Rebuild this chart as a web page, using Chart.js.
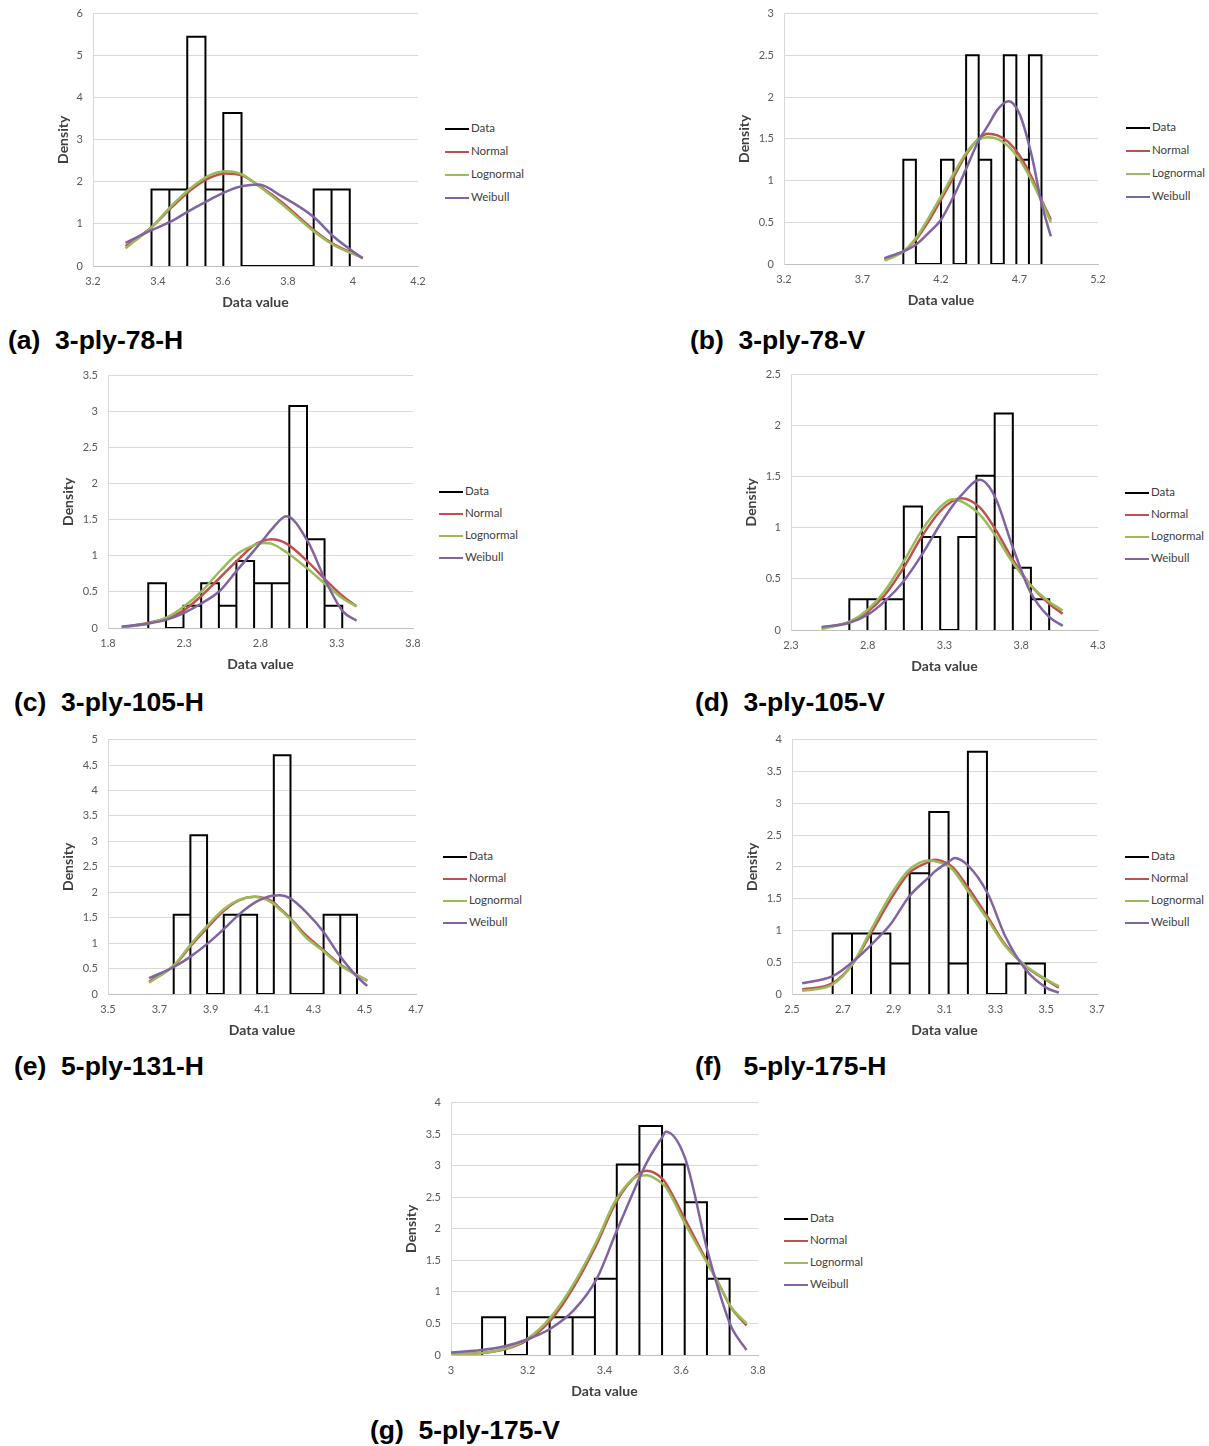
<!DOCTYPE html>
<html>
<head>
<meta charset="utf-8">
<script src="https://cdn.jsdelivr.net/npm/chart.js@4.4.1/dist/chart.umd.min.js"></script>
<style>
  body { margin: 0; background: #fff; }
  #page { position: relative; width: 1209px; height: 1446px; overflow: hidden; }
  canvas { position: absolute; }
  .caption { position: absolute; font: bold 26.5px "Liberation Sans", Arial, sans-serif; color: #000; white-space: pre; line-height: 30px; }
  .legend { position: absolute; font: 11.5px Lato, sans-serif; color: #404040; }
  .legend div { position: relative; height: 23px; line-height: 14px; white-space: nowrap; }
  .legend span { display: inline-block; width: 24px; height: 2.5px; vertical-align: middle; margin-right: 2px; }
</style>
</head>
<body>
<div id="page"></div>
<script>
// (a) 3-ply-78-H
const edgesA = [3.38, 3.435, 3.49, 3.546, 3.601, 3.657, 3.712, 3.768, 3.823, 3.879, 3.934, 3.99];
const densA = [1.82, 1.82, 5.45, 1.82, 3.64, 0, 0, 0, 0, 1.82, 1.82];
const xA = [3.30, 3.38, 3.44, 3.50, 3.56, 3.61, 3.66, 3.71, 3.78, 3.88, 3.94, 4.03];
const normA = [0.47, 0.92, 1.38, 1.80, 2.10, 2.20, 2.15, 1.91, 1.52, 0.85, 0.52, 0.20];
const logA = [0.42, 0.92, 1.42, 1.85, 2.16, 2.25, 2.17, 1.90, 1.48, 0.82, 0.50, 0.19];
const weibA = [0.55, 0.85, 1.06, 1.33, 1.58, 1.77, 1.90, 1.94, 1.66, 1.16, 0.70, 0.18];
const xTicksA = [3.2, 3.4, 3.6, 3.8, 4, 4.2];
const yTicksA = [0, 1, 2, 3, 4, 5, 6];

// (b) 3-ply-78-V
const edgesB = [3.96, 4.04, 4.12, 4.2, 4.28, 4.36, 4.44, 4.52, 4.6, 4.68, 4.76, 4.84];
const densB = [1.25, 0, 0, 1.25, 0, 2.5, 1.25, 0, 2.5, 1.25, 2.5];
const xB = [3.84, 3.96, 4.04, 4.12, 4.20, 4.28, 4.36, 4.44, 4.50, 4.56, 4.63, 4.70, 4.78, 4.84, 4.90];
const normB = [0.06, 0.15, 0.29, 0.51, 0.77, 1.04, 1.31, 1.50, 1.56, 1.54, 1.46, 1.30, 1.03, 0.77, 0.53];
const logB = [0.04, 0.15, 0.31, 0.55, 0.81, 1.08, 1.33, 1.49, 1.52, 1.50, 1.41, 1.25, 0.99, 0.75, 0.50];
const weibB = [0.07, 0.15, 0.23, 0.37, 0.53, 0.81, 1.14, 1.48, 1.66, 1.85, 1.95, 1.80, 1.28, 0.73, 0.33];
const xTicksB = [3.2, 3.7, 4.2, 4.7, 5.2];
const yTicksB = [0, 0.5, 1, 1.5, 2, 2.5, 3];

// (c) 3-ply-105-H
const edgesC = [2.064, 2.18, 2.295, 2.411, 2.527, 2.642, 2.758, 2.874, 2.989, 3.105, 3.22, 3.336];
const densC = [0.62, 0, 0.31, 0.62, 0.31, 0.93, 0.62, 0.62, 3.08, 1.23, 0.31];
const xC = [1.89, 2.06, 2.19, 2.30, 2.42, 2.53, 2.65, 2.76, 2.82, 2.87, 2.97, 3.11, 3.23, 3.34, 3.43];
const normC = [0.01, 0.07, 0.14, 0.25, 0.46, 0.69, 0.94, 1.15, 1.21, 1.23, 1.17, 0.92, 0.66, 0.44, 0.30];
const logC = [0.01, 0.06, 0.15, 0.30, 0.52, 0.78, 1.03, 1.15, 1.18, 1.17, 1.05, 0.82, 0.60, 0.41, 0.30];
const weibC = [0.02, 0.06, 0.12, 0.21, 0.35, 0.51, 0.81, 1.08, 1.23, 1.36, 1.55, 1.20, 0.64, 0.23, 0.10];
const xTicksC = [1.8, 2.3, 2.8, 3.3, 3.8];
const yTicksC = [0, 0.5, 1, 1.5, 2, 2.5, 3, 3.5];

// (d) 3-ply-105-V
const edgesD = [2.68, 2.798, 2.917, 3.035, 3.153, 3.272, 3.39, 3.508, 3.627, 3.745, 3.863, 3.982];
const densD = [0.30, 0.30, 0.30, 1.21, 0.91, 0, 0.91, 1.51, 2.12, 0.61, 0.30];
const xD = [2.50, 2.68, 2.80, 2.91, 3.03, 3.15, 3.27, 3.35, 3.41, 3.53, 3.63, 3.74, 3.86, 3.98, 4.07];
const normD = [0.02, 0.08, 0.18, 0.34, 0.60, 0.91, 1.16, 1.26, 1.29, 1.20, 0.99, 0.70, 0.44, 0.26, 0.16];
const logD = [0.01, 0.08, 0.20, 0.38, 0.66, 0.97, 1.20, 1.28, 1.26, 1.13, 0.93, 0.67, 0.44, 0.28, 0.19];
const weibD = [0.03, 0.07, 0.15, 0.28, 0.47, 0.73, 1.03, 1.21, 1.32, 1.47, 1.30, 0.83, 0.37, 0.13, 0.04];
const xTicksD = [2.3, 2.8, 3.3, 3.8, 4.3];
const yTicksD = [0, 0.5, 1, 1.5, 2, 2.5];

// (e) 5-ply-131-H
const edgesE = [3.756, 3.821, 3.886, 3.951, 4.016, 4.081, 4.146, 4.211, 4.275, 4.34, 4.405, 4.47];
const densE = [1.56, 3.12, 0, 1.56, 1.56, 0, 4.69, 0, 0, 1.56, 1.56];
const xE = [3.66, 3.76, 3.82, 3.89, 3.95, 4.01, 4.07, 4.14, 4.17, 4.21, 4.27, 4.34, 4.40, 4.47, 4.51];
const normE = [0.24, 0.57, 0.93, 1.32, 1.63, 1.84, 1.91, 1.82, 1.68, 1.49, 1.16, 0.86, 0.60, 0.37, 0.26];
const logE = [0.22, 0.58, 0.96, 1.36, 1.66, 1.85, 1.91, 1.79, 1.66, 1.47, 1.12, 0.84, 0.58, 0.37, 0.26];
const weibE = [0.31, 0.54, 0.73, 1.00, 1.27, 1.56, 1.79, 1.93, 1.94, 1.88, 1.62, 1.22, 0.77, 0.34, 0.16];
const xTicksE = [3.5, 3.7, 3.9, 4.1, 4.3, 4.5, 4.7];
const yTicksE = [0, 0.5, 1, 1.5, 2, 2.5, 3, 3.5, 4, 4.5, 5];

// (f) 5-ply-175-H
const edgesF = [2.66, 2.736, 2.811, 2.887, 2.963, 3.04, 3.116, 3.192, 3.267, 3.343, 3.419, 3.495];
const densF = [0.95, 0.95, 0.95, 0.48, 1.90, 2.86, 0.48, 3.81, 0, 0.48, 0.48];
const xF = [2.54, 2.66, 2.74, 2.81, 2.89, 2.96, 3.04, 3.06, 3.12, 3.14, 3.19, 3.27, 3.34, 3.42, 3.50, 3.55];
const normF = [0.07, 0.17, 0.48, 0.95, 1.50, 1.90, 2.08, 2.11, 2.03, 1.96, 1.69, 1.21, 0.77, 0.43, 0.22, 0.10];
const logF = [0.05, 0.15, 0.48, 1.00, 1.57, 1.95, 2.10, 2.09, 2.00, 1.92, 1.63, 1.17, 0.75, 0.44, 0.23, 0.12];
const weibF = [0.17, 0.28, 0.51, 0.77, 1.11, 1.53, 1.84, 1.92, 2.09, 2.14, 2.03, 1.58, 0.90, 0.38, 0.10, 0.02];
const xTicksF = [2.5, 2.7, 2.9, 3.1, 3.3, 3.5, 3.7];
const yTicksF = [0, 0.5, 1, 1.5, 2, 2.5, 3, 3.5, 4];

// (g) 5-ply-175-V
const edgesG = [3.081, 3.141, 3.198, 3.257, 3.317, 3.375, 3.432, 3.491, 3.55, 3.609, 3.667, 3.726];
const densG = [0.60, 0, 0.60, 0.60, 0.60, 1.21, 3.02, 3.63, 3.02, 2.42, 1.21];
const xG = [3.00, 3.08, 3.14, 3.20, 3.26, 3.32, 3.38, 3.43, 3.49, 3.51, 3.55, 3.56, 3.61, 3.67, 3.70, 3.73, 3.77];
const normG = [0.01, 0.03, 0.09, 0.24, 0.55, 1.08, 1.76, 2.42, 2.88, 2.92, 2.80, 2.72, 2.15, 1.45, 1.10, 0.75, 0.47];
const logG = [0.01, 0.03, 0.10, 0.26, 0.60, 1.13, 1.81, 2.46, 2.84, 2.85, 2.72, 2.66, 2.08, 1.43, 1.10, 0.76, 0.50];
const weibG = [0.04, 0.08, 0.14, 0.25, 0.42, 0.71, 1.21, 1.94, 2.79, 3.05, 3.45, 3.54, 3.12, 1.61, 0.98, 0.45, 0.08];
const xTicksG = [3, 3.2, 3.4, 3.6, 3.8];
const yTicksG = [0, 0.5, 1, 1.5, 2, 2.5, 3, 3.5, 4];

const seriesNames = ['Data', 'Normal', 'Lognormal', 'Weibull'];
const seriesColors = ['#000000', '#c0504d', '#9bbb59', '#8064a2'];

// panel placement: plot area box (left, top, right, bottom), y-axis width, legend spot, caption
const panels = [
  { caption: '(a)  3-ply-78-H', edges: edgesA, dens: densA, xs: xA, norm: normA, logn: logA, weib: weibA, xTicks: xTicksA, yTicks: yTicksA,
    plot: [93, 13, 418, 266], axisW: 40, legend: [445, 128, 23], cap: [8, 340] },
  { caption: '(b)  3-ply-78-V', edges: edgesB, dens: densB, xs: xB, norm: normB, logn: logB, weib: weibB, xTicks: xTicksB, yTicks: yTicksB,
    plot: [784, 13, 1098, 264], axisW: 50, legend: [1126, 127, 23], cap: [690, 340] },
  { caption: '(c)  3-ply-105-H', edges: edgesC, dens: densC, xs: xC, norm: normC, logn: logC, weib: weibC, xTicks: xTicksC, yTicks: yTicksC,
    plot: [108, 375, 413, 628], axisW: 50, legend: [439, 491, 22], cap: [14, 702] },
  { caption: '(d)  3-ply-105-V', edges: edgesD, dens: densD, xs: xD, norm: normD, logn: logD, weib: weibD, xTicks: xTicksD, yTicks: yTicksD,
    plot: [791, 374, 1098, 630], axisW: 50, legend: [1125, 492, 22], cap: [695, 702] },
  { caption: '(e)  5-ply-131-H', edges: edgesE, dens: densE, xs: xE, norm: normE, logn: logE, weib: weibE, xTicks: xTicksE, yTicks: yTicksE,
    plot: [108, 739, 416, 994], axisW: 50, legend: [443, 856, 22], cap: [14, 1066] },
  { caption: '(f)   5-ply-175-H', edges: edgesF, dens: densF, xs: xF, norm: normF, logn: logF, weib: weibF, xTicks: xTicksF, yTicks: yTicksF,
    plot: [792, 739, 1097, 994], axisW: 50, legend: [1125, 856, 22], cap: [695, 1066] },
  { caption: '(g)  5-ply-175-V', edges: edgesG, dens: densG, xs: xG, norm: normG, logn: logG, weib: weibG, xTicks: xTicksG, yTicks: yTicksG,
    plot: [451, 1102, 758, 1355], axisW: 50, legend: [784, 1218, 22], cap: [370, 1430] },
];

const page = document.getElementById('page');

// histogram drawn as the outline of each bin
function outline(edges, dens) {
  const pts = [];
  dens.forEach((h, i) => {
    pts.push({ x: edges[i], y: 0 }, { x: edges[i], y: h }, { x: edges[i + 1], y: h }, { x: edges[i + 1], y: 0 });
  });
  return pts;
}

function curve(xs, ys) {
  return xs.map((x, i) => ({ x: x, y: ys[i] }));
}

const tickFont = { family: 'Lato', size: 11 };
const titleFont = { family: 'Lato', size: 14, weight: 'bold' };

panels.forEach((p) => {
  const [L, T, R, B] = p.plot;
  const padTop = 16, padRight = 20, axisH = 48;
  const canvas = document.createElement('canvas');
  canvas.width = p.axisW + (R - L) + padRight;
  canvas.height = padTop + (B - T) + axisH;
  canvas.style.left = (L - p.axisW) + 'px';
  canvas.style.top = (T - padTop) + 'px';
  page.appendChild(canvas);

  const lineSet = (i, data) => ({
    label: seriesNames[i],
    data: data,
    borderColor: seriesColors[i],
    borderWidth: 2.5,
    pointRadius: 0,
    cubicInterpolationMode: 'monotone',
    fill: false,
    order: 4 - i,
  });

  new Chart(canvas.getContext('2d'), {
    type: 'line',
    data: {
      datasets: [
        { label: 'Data', data: outline(p.edges, p.dens), borderColor: '#000', borderWidth: 2,
          pointRadius: 0, tension: 0, borderJoinStyle: 'miter', fill: false, order: 4 },
        lineSet(1, curve(p.xs, p.norm)),
        lineSet(2, curve(p.xs, p.logn)),
        lineSet(3, curve(p.xs, p.weib)),
      ],
    },
    options: {
      responsive: false,
      animation: false,
      events: [],
      layout: { padding: { top: padTop, right: padRight, left: 0, bottom: 0 } },
      plugins: { legend: { display: false }, tooltip: { enabled: false } },
      scales: {
        x: {
          type: 'linear',
          min: p.xTicks[0],
          max: p.xTicks[p.xTicks.length - 1],
          afterBuildTicks: (ax) => { ax.ticks = p.xTicks.map(v => ({ value: v })); },
          afterFit: (ax) => { ax.height = axisH; },
          grid: { display: false, drawTicks: false },
          border: { display: true, color: '#bfbfbf', width: 1 },
          ticks: { font: tickFont, color: '#595959', padding: 9, maxRotation: 0, autoSkip: false, callback: v => String(v) },
          title: { display: true, text: 'Data value', font: titleFont, color: '#404040', padding: { top: 4, bottom: 3 } },
        },
        y: {
          type: 'linear',
          min: 0,
          max: p.yTicks[p.yTicks.length - 1],
          afterBuildTicks: (ax) => { ax.ticks = p.yTicks.map(v => ({ value: v })); },
          afterFit: (ax) => { ax.width = p.axisW; },
          grid: { color: '#d9d9d9', drawTicks: false },
          border: { display: true, color: '#d9d9d9' },
          ticks: { font: tickFont, color: '#595959', padding: 10, callback: v => String(v) },
          title: { display: true, text: 'Density', font: titleFont, color: '#404040', padding: { top: 2, bottom: 2 } },
        },
      },
    },
  });

  // legend
  const [lx, ly, step] = p.legend;
  const lg = document.createElement('div');
  lg.className = 'legend';
  lg.style.left = lx + 'px';
  lg.style.top = (ly - 7) + 'px';
  seriesNames.forEach((name, i) => {
    const row = document.createElement('div');
    row.style.height = step + 'px';
    const sw = document.createElement('span');
    sw.style.background = seriesColors[i];
    row.appendChild(sw);
    row.appendChild(document.createTextNode(name));
    lg.appendChild(row);
  });
  page.appendChild(lg);

  // caption
  const cap = document.createElement('div');
  cap.className = 'caption';
  cap.textContent = p.caption;
  cap.style.left = p.cap[0] + 'px';
  cap.style.top = (p.cap[1] - 15) + 'px';
  page.appendChild(cap);
});
</script>
</body>
</html>
